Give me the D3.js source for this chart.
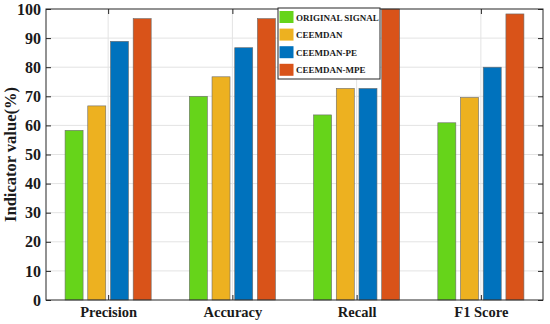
<!DOCTYPE html>
<html><head><meta charset="utf-8">
<script src="https://cdn.jsdelivr.net/npm/d3@7"></script>
<style>body{margin:0;background:#fff}svg{display:block}text{font-family:"Liberation Serif","Times New Roman",serif;font-weight:bold}</style>
</head><body><div id="c"></div>
<script>
const categories = ["Precision","Accuracy","Recall","F1 Score"];
const seriesNames = ["ORIGINAL SIGNAL","CEEMDAN","CEEMDAN-PE","CEEMDAN-MPE"];
const originalSignal = [58.3, 70.0, 63.6, 60.9];
const ceemdan = [66.7, 76.7, 72.7, 69.6];
const ceemdanPE = [88.9, 86.7, 72.7, 80.0];
const ceemdanMPE = [96.7, 96.7, 100, 98.3];
const yTicks = [0,10,20,30,40,50,60,70,80,90,100];
const colors = ["#66d41a","#edb120","#0072bd","#d95319"];
const series = [originalSignal, ceemdan, ceemdanPE, ceemdanMPE];

const W=550,H=324, L=46, R=543, T=9, B=300;
const svg=d3.select("#c").append("svg").attr("width",W).attr("height",H);
const x=d3.scaleLinear().domain([0.5,4.5]).range([L,R]);
const y=d3.scaleLinear().domain([0,100]).range([B,T]);

// grid
svg.append("g").selectAll("line").data(yTicks.slice(1,-1)).join("line")
  .attr("x1",L).attr("x2",R).attr("y1",d=>y(d)).attr("y2",d=>y(d)).attr("stroke","#e3e3e3").attr("stroke-width",1);
svg.append("g").selectAll("line").data(categories).join("line")
  .attr("x1",(d,i)=>x(i+1)).attr("x2",(d,i)=>x(i+1)).attr("y1",T).attr("y2",B).attr("stroke","#e3e3e3").attr("stroke-width",1);

// bars
const bw=18, step=22.7;
series.forEach((s,j)=>{
  svg.append("g").selectAll("rect").data(s).join("rect")
    .attr("x",(d,i)=>x(i+1)+(j-1.5)*step-bw/2)
    .attr("y",d=>y(d)).attr("width",bw).attr("height",d=>y(0)-y(d))
    .attr("fill",colors[j]).attr("stroke","#6b6b6b").attr("stroke-width",0.6);
});

// axes
const ax=svg.append("g");
ax.append("rect").attr("x",L).attr("y",T).attr("width",R-L).attr("height",B-T).attr("fill","none").attr("stroke","#262626").attr("stroke-width",1);
const yl=d3.axisLeft(y).tickValues(yTicks).tickSize(-5).tickPadding(5);
const gy=svg.append("g").attr("transform",`translate(${L},0)`).call(yl);
gy.select(".domain").remove();
gy.selectAll("line").attr("stroke","#262626");
gy.selectAll("text").attr("font-size",16).attr("fill","#1a1a1a").attr("font-family","Liberation Serif");
const yr=d3.axisRight(y).tickValues(yTicks).tickSize(-5).tickFormat("");
const gyr=svg.append("g").attr("transform",`translate(${R},0)`).call(yr);
gyr.select(".domain").remove(); gyr.selectAll("line").attr("stroke","#262626");
const xb=d3.axisBottom(x).tickValues([1,2,3,4]).tickSize(-5).tickPadding(7).tickFormat((d)=>categories[d-1]);
const gx=svg.append("g").attr("transform",`translate(0,${B})`).call(xb);
gx.select(".domain").remove(); gx.selectAll("line").attr("stroke","#262626");
gx.selectAll("text").attr("font-size",14.5).attr("fill","#1a1a1a").attr("font-family","Liberation Serif");
const xt=d3.axisTop(x).tickValues([1,2,3,4]).tickSize(-5).tickFormat("");
const gxt=svg.append("g").attr("transform",`translate(0,${T})`).call(xt);
gxt.select(".domain").remove(); gxt.selectAll("line").attr("stroke","#262626");

svg.append("text").attr("transform",`translate(16,${(T+B)/2}) rotate(-90)`).attr("text-anchor","middle")
  .attr("font-size",16.5).attr("fill","#1a1a1a").text("Indicator value(%)");

// legend
const lg=svg.append("g");
lg.append("rect").attr("x",278).attr("y",8).attr("width",102).attr("height",71).attr("fill","#fff").attr("stroke","#262626").attr("stroke-width",1);
seriesNames.forEach((n,j)=>{
  const cy=17+j*17.6;
  lg.append("rect").attr("x",279.5).attr("y",cy-6).attr("width",14).attr("height",12).attr("fill",colors[j]);
  lg.append("text").attr("x",296).attr("y",cy+3.5).attr("font-size",9).attr("fill","#1a1a1a").text(n);
});
</script></body></html>
